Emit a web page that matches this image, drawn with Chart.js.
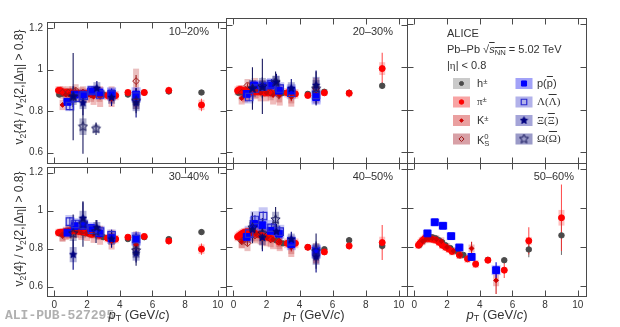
<!DOCTYPE html>
<html><head><meta charset="utf-8">
<script src="https://cdn.jsdelivr.net/npm/chart.js@4.4.0/dist/chart.umd.min.js"></script>
<style>
html,body{margin:0;padding:0;background:#fff;width:620px;height:327px;overflow:hidden;position:relative;font-family:"Liberation Sans",Arial,sans-serif;color:#333}
canvas{position:absolute}
.t{position:absolute;white-space:nowrap;line-height:1}
.t sub{font-size:70%;vertical-align:-0.3em;line-height:0}
.t sup{font-size:70%;vertical-align:0.45em;line-height:0}
.g{font-family:"Liberation Serif",serif}
.ol{text-decoration:overline}
</style></head><body>

<div class="t" style="right:411px;top:25.5px;font-size:11px">10–20%</div>
<div class="t" style="right:227px;top:25.5px;font-size:11px">20–30%</div>
<div class="t" style="right:411px;top:170.5px;font-size:11px">30–40%</div>
<div class="t" style="right:227px;top:170.5px;font-size:11px">40–50%</div>
<div class="t" style="right:46px;top:170.5px;font-size:11px">50–60%</div>

<div class="t" style="left:447px;top:27.5px;font-size:11px">ALICE</div>
<div class="t" style="left:447px;top:44px;font-size:11px">Pb–Pb √<span class="ol"><i>s</i><sub>NN</sub></span> = 5.02 TeV</div>
<div class="t" style="left:447px;top:60px;font-size:11px">|<span class="g">η</span>| &lt; 0.8</div>

<div class="t" style="left:477px;top:77.5px;font-size:11px">h<sup>±</sup></div>
<div class="t" style="left:477px;top:96px;font-size:11px"><span class="g">π</span><sup>±</sup></div>
<div class="t" style="left:477px;top:114.5px;font-size:11px">K<sup>±</sup></div>
<div class="t" style="left:477px;top:133px;font-size:11px">K<span style="display:inline-block;vertical-align:-0.35em;font-size:70%;line-height:0.95;text-align:left"><span style="display:block">0</span><span style="display:block">S</span></span></div>
<div class="t" style="left:537px;top:77.5px;font-size:11px">p(<span class="ol">p</span>)</div>
<div class="t g" style="left:537px;top:96px;font-size:11px">Λ(<span class="ol">Λ</span>)</div>
<div class="t g" style="left:537px;top:114.5px;font-size:11px">Ξ(<span class="ol">Ξ</span>)</div>
<div class="t g" style="left:537px;top:133px;font-size:11px">Ω(<span class="ol">Ω</span>)</div>

<div class="t" style="left:19px;top:87px;transform:translate(-50%,-50%) rotate(-90deg);font-size:12px">v<sub>2</sub>{4} / v<sub>2</sub>{2,|Δ<span class="g">η</span>| &gt; 0.8}</div>
<div class="t" style="left:19px;top:229px;transform:translate(-50%,-50%) rotate(-90deg);font-size:12px">v<sub>2</sub>{4} / v<sub>2</sub>{2,|Δ<span class="g">η</span>| &gt; 0.8}</div>

<div class="t" style="left:5px;top:309px;font-size:13px;font-family:'Liberation Mono',monospace;font-weight:bold;color:#b0b0b0">ALI-PUB-527295</div>
<div class="t" style="left:139px;top:314px;transform:translate(-50%,-50%);font-size:13px"><i>p</i><sub>T</sub> (GeV/<i>c</i>)</div>
<div class="t" style="left:314px;top:314px;transform:translate(-50%,-50%);font-size:13px"><i>p</i><sub>T</sub> (GeV/<i>c</i>)</div>
<div class="t" style="left:497px;top:314px;transform:translate(-50%,-50%);font-size:13px"><i>p</i><sub>T</sub> (GeV/<i>c</i>)</div>

<script>
// ---------- transverse momentum bins ----------
const pt_h   = [0.3,0.5,0.7,0.9,1.1,1.3,1.5,1.7,1.9,2.2,2.6,3.0,3.5,4.5,5.5,7,9];
const pt_pi  = [0.25,0.35,0.45,0.55,0.65,0.75,0.85,0.95,1.1,1.3,1.5,1.7,1.9,2.1,2.3,2.75,3.25,3.75,4.5,5.5,7,9];
const pt_k   = [0.5,0.7,0.9,1.1,1.35,1.65,2.0,2.4,2.8,3.5,5];
const pt_k0  = [0.5,0.85,1.3,1.75,2.25,2.75,3.5,5];
const pt_p   = [0.8,1.25,1.75,2.25,2.75,3.5,5];
const pt_lam = [0.95,1.3,1.8,2.3,2.8,3.5,5];
const pt_xi  = [1.15,1.75,2.6,3.5,5];
const pt_om  = [1.15,1.75,2.55,5];

const xTickVals = [0,2,4,6,8,10];
const yTickVals = [0.6,0.8,1.0,1.2];
const centLabels = ['10–20%','20–30%','30–40%','40–50%','50–60%'];

// ---------- 10-20% ----------
const c1020_h       = [0.88,0.885,0.885,0.885,0.885,0.885,0.885,0.885,0.885,0.885,0.885,0.88,0.88,0.88,0.89,0.895,0.89];
const c1020_h_stat  = [0.003,0.003,0.003,0.003,0.003,0.003,0.003,0.003,0.003,0.003,0.003,0.004,0.004,0.005,0.006,0.01,0.012];
const c1020_h_sys   = [0.012,0.012,0.012,0.012,0.012,0.012,0.012,0.012,0.012,0.012,0.012,0.012,0.012,0.012,0.012,0.012,0.012];
const c1020_pi      = [0.9,0.9,0.895,0.89,0.89,0.89,0.89,0.89,0.885,0.885,0.885,0.885,0.885,0.885,0.88,0.88,0.875,0.875,0.89,0.89,0.9,0.83];
const c1020_pi_stat = [0.004,0.004,0.004,0.004,0.004,0.004,0.004,0.004,0.004,0.004,0.004,0.004,0.004,0.004,0.004,0.005,0.006,0.006,0.008,0.01,0.018,0.03];
const c1020_pi_sys  = [0.02,0.02,0.02,0.02,0.02,0.02,0.02,0.02,0.02,0.02,0.02,0.02,0.02,0.02,0.022,0.022,0.022,0.022,0.015,0.015,0.015,0.025];
const c1020_k       = [0.83,0.88,0.88,0.89,0.88,0.88,0.875,0.87,0.87,0.86,0.85];
const c1020_k_stat  = [0.006,0.006,0.006,0.006,0.007,0.008,0.01,0.012,0.015,0.02,0.03];
const c1020_k_sys   = [0.025,0.03,0.03,0.03,0.03,0.035,0.035,0.04,0.05,0.04,0.04];
const c1020_k0      = [0.89,0.89,0.9,0.89,0.88,0.88,0.88,0.945];
const c1020_k0_stat = [0.01,0.01,0.01,0.01,0.012,0.015,0.02,0.03];
const c1020_k0_sys  = [0.03,0.03,0.03,0.03,0.035,0.035,0.04,0.06];
const c1020_p       = [0.845,0.88,0.88,0.895,0.89,0.885,0.88];
const c1020_p_stat  = [0.01,0.01,0.01,0.012,0.015,0.02,0.03];
const c1020_p_sys   = [0.02,0.02,0.025,0.025,0.025,0.03,0.035];
const c1020_lam     = [0.825,0.865,0.875,0.9,0.88,0.88,0.87];
const c1020_lam_stat= [0.02,0.015,0.015,0.02,0.02,0.03,0.04];
const c1020_lam_sys = [0.025,0.025,0.025,0.025,0.025,0.03,0.03];
const c1020_xi      = [0.87,0.84,0.91,0.865,0.84];
const c1020_xi_stat = [0.05,0.06,0.035,0.04,0.07];
const c1020_xi_sys  = [0.03,0.03,0.03,0.03,0.04];
const c1020_om      = [0.87,0.725,0.715,0.85];
const c1020_om_stat = [0.21,0.13,0.03,0.06];
const c1020_om_sys  = [0.04,0.04,0.02,0.04];

// ---------- 20-30% ----------
const c2030_h       = [0.88,0.885,0.89,0.89,0.89,0.89,0.89,0.89,0.885,0.885,0.885,0.88,0.88,0.875,0.885,0.88,0.913];
const c2030_h_stat  = [0.003,0.003,0.003,0.003,0.003,0.003,0.003,0.003,0.003,0.003,0.003,0.004,0.004,0.005,0.006,0.01,0.015];
const c2030_h_sys   = [0.012,0.012,0.012,0.012,0.012,0.012,0.012,0.012,0.012,0.012,0.012,0.012,0.012,0.012,0.012,0.012,0.012];
const c2030_pi      = [0.89,0.895,0.895,0.89,0.89,0.89,0.89,0.89,0.885,0.885,0.885,0.885,0.88,0.88,0.88,0.88,0.88,0.875,0.868,0.88,0.878,0.994];
const c2030_pi_stat = [0.004,0.004,0.004,0.004,0.004,0.004,0.004,0.004,0.004,0.004,0.004,0.004,0.004,0.004,0.004,0.005,0.006,0.006,0.008,0.01,0.02,0.075];
const c2030_pi_sys  = [0.02,0.02,0.02,0.02,0.02,0.02,0.02,0.02,0.02,0.02,0.02,0.02,0.02,0.02,0.022,0.022,0.022,0.022,0.015,0.015,0.015,0.03];
const c2030_k       = [0.855,0.87,0.88,0.9,0.89,0.88,0.88,0.87,0.87,0.86,0.87];
const c2030_k_stat  = [0.006,0.006,0.006,0.006,0.007,0.008,0.01,0.012,0.015,0.02,0.03];
const c2030_k_sys   = [0.03,0.035,0.035,0.035,0.035,0.04,0.04,0.045,0.05,0.045,0.04];
const c2030_k0      = [0.88,0.915,0.9,0.9,0.88,0.87,0.87,0.9];
const c2030_k0_stat = [0.01,0.01,0.01,0.012,0.015,0.02,0.025,0.035];
const c2030_k0_sys  = [0.035,0.03,0.05,0.04,0.035,0.035,0.04,0.05];
const c2030_p       = [0.875,0.915,0.91,0.915,0.89,0.89,0.86];
const c2030_p_stat  = [0.01,0.01,0.012,0.015,0.02,0.025,0.035];
const c2030_p_sys   = [0.02,0.025,0.025,0.03,0.03,0.03,0.035];
const c2030_lam     = [0.86,0.9,0.91,0.92,0.9,0.88,0.87];
const c2030_lam_stat= [0.02,0.02,0.02,0.025,0.025,0.03,0.04];
const c2030_lam_sys = [0.03,0.03,0.03,0.03,0.03,0.03,0.035];
const c2030_xi      = [0.9,0.905,0.93,0.9,0.915];
const c2030_xi_stat = [0.05,0.05,0.04,0.045,0.07];
const c2030_xi_sys  = [0.03,0.03,0.03,0.03,0.04];
const c2030_om      = [0.9,0.91,0.93,0.9];
const c2030_om_stat = [0.1,0.13,0.05,0.08];
const c2030_om_sys  = [0.04,0.04,0.03,0.04];

// ---------- 30-40% ----------
const c3040_h       = [0.88,0.885,0.885,0.89,0.89,0.89,0.89,0.885,0.88,0.875,0.87,0.86,0.855,0.85,0.86,0.85,0.887];
const c3040_h_stat  = [0.003,0.003,0.003,0.003,0.003,0.003,0.003,0.003,0.003,0.003,0.003,0.004,0.004,0.005,0.007,0.012,0.015];
const c3040_h_sys   = [0.012,0.012,0.012,0.012,0.012,0.012,0.012,0.012,0.012,0.012,0.012,0.012,0.012,0.012,0.012,0.012,0.012];
const c3040_pi      = [0.884,0.885,0.885,0.886,0.888,0.89,0.892,0.893,0.893,0.892,0.89,0.888,0.885,0.88,0.875,0.87,0.855,0.85,0.86,0.864,0.84,0.797];
const c3040_pi_stat = [0.004,0.004,0.004,0.004,0.004,0.004,0.004,0.004,0.004,0.004,0.004,0.004,0.004,0.004,0.004,0.005,0.006,0.007,0.008,0.01,0.018,0.03];
const c3040_pi_sys  = [0.02,0.02,0.02,0.02,0.02,0.02,0.02,0.02,0.02,0.02,0.02,0.02,0.02,0.02,0.022,0.022,0.022,0.022,0.015,0.015,0.015,0.025];
const c3040_k       = [0.87,0.88,0.885,0.89,0.89,0.885,0.88,0.875,0.87,0.84,0.82];
const c3040_k_stat  = [0.006,0.006,0.006,0.006,0.007,0.008,0.01,0.012,0.015,0.02,0.03];
const c3040_k_sys   = [0.03,0.035,0.035,0.035,0.035,0.04,0.04,0.045,0.05,0.045,0.04];
const c3040_k0      = [0.87,0.89,0.9,0.895,0.89,0.88,0.86,0.84];
const c3040_k0_stat = [0.01,0.01,0.01,0.012,0.015,0.02,0.025,0.035];
const c3040_k0_sys  = [0.035,0.035,0.04,0.04,0.035,0.035,0.04,0.05];
const c3040_p       = [0.884,0.918,0.92,0.908,0.88,0.855,0.852];
const c3040_p_stat  = [0.01,0.012,0.015,0.015,0.02,0.025,0.03];
const c3040_p_sys   = [0.025,0.03,0.03,0.03,0.03,0.03,0.035];
const c3040_lam     = [0.942,0.93,0.925,0.9,0.89,0.87,0.85];
const c3040_lam_stat= [0.025,0.02,0.02,0.025,0.025,0.03,0.04];
const c3040_lam_sys = [0.035,0.03,0.03,0.03,0.03,0.03,0.035];
const c3040_xi      = [0.768,0.959,0.91,0.85,0.776];
const c3040_xi_stat = [0.08,0.085,0.04,0.045,0.05];
const c3040_xi_sys  = [0.04,0.04,0.03,0.03,0.04];
const c3040_om      = [0.88,0.93,0.89,0.79];
const c3040_om_stat = [0.1,0.12,0.06,0.08];
const c3040_om_sys  = [0.04,0.04,0.03,0.04];

// ---------- 40-50% ----------
const c4050_h       = [0.85,0.86,0.87,0.875,0.875,0.87,0.865,0.86,0.855,0.85,0.835,0.82,0.81,0.80,0.79,0.836,0.807];
const c4050_h_stat  = [0.003,0.003,0.003,0.003,0.003,0.003,0.003,0.003,0.003,0.003,0.003,0.004,0.005,0.006,0.008,0.015,0.02];
const c4050_h_sys   = [0.012,0.012,0.012,0.012,0.012,0.012,0.012,0.012,0.012,0.012,0.012,0.012,0.012,0.012,0.012,0.012,0.012];
const c4050_pi      = [0.853,0.86,0.866,0.872,0.876,0.878,0.878,0.878,0.876,0.872,0.866,0.86,0.855,0.85,0.845,0.827,0.82,0.82,0.80,0.776,0.807,0.824];
const c4050_pi_stat = [0.004,0.004,0.004,0.004,0.004,0.004,0.004,0.004,0.004,0.004,0.004,0.004,0.004,0.004,0.004,0.006,0.007,0.008,0.01,0.012,0.02,0.09];
const c4050_pi_sys  = [0.022,0.022,0.022,0.022,0.022,0.022,0.022,0.022,0.022,0.022,0.022,0.022,0.022,0.022,0.025,0.025,0.025,0.025,0.015,0.015,0.015,0.03];
const c4050_k       = [0.83,0.85,0.86,0.87,0.87,0.86,0.85,0.84,0.83,0.80,0.76];
const c4050_k_stat  = [0.007,0.007,0.007,0.007,0.008,0.009,0.011,0.013,0.016,0.022,0.035];
const c4050_k_sys   = [0.035,0.04,0.04,0.04,0.04,0.045,0.045,0.05,0.05,0.05,0.045];
const c4050_k0      = [0.83,0.82,0.86,0.85,0.84,0.83,0.81,0.77];
const c4050_k0_stat = [0.012,0.012,0.012,0.015,0.018,0.02,0.025,0.04];
const c4050_k0_sys  = [0.035,0.04,0.04,0.04,0.04,0.04,0.045,0.05];
const c4050_p       = [0.853,0.92,0.913,0.884,0.87,0.815,0.776];
const c4050_p_stat  = [0.012,0.012,0.015,0.015,0.02,0.025,0.04];
const c4050_p_sys   = [0.03,0.035,0.035,0.035,0.03,0.03,0.035];
const c4050_lam     = [0.87,0.94,0.96,0.9,0.88,0.83,0.78];
const c4050_lam_stat= [0.025,0.025,0.025,0.025,0.03,0.03,0.04];
const c4050_lam_sys = [0.04,0.045,0.045,0.04,0.035,0.03,0.035];
const c4050_xi      = [0.89,0.85,0.88,0.84,0.75];
const c4050_xi_stat = [0.05,0.07,0.04,0.04,0.08];
const c4050_xi_sys  = [0.04,0.04,0.03,0.03,0.04];
const c4050_om      = [0.9,0.87,0.942,0.78];
const c4050_om_stat = [0.08,0.08,0.065,0.09];
const c4050_om_sys  = [0.04,0.04,0.04,0.04];

// ---------- 50-60% ----------
const c5060_h       = [0.81,0.83,0.845,0.85,0.85,0.845,0.835,0.825,0.81,0.795,0.78,0.76,0.745,0.735,0.733,0.788,0.86];
const c5060_h_stat  = [0.004,0.004,0.004,0.004,0.004,0.004,0.004,0.004,0.004,0.004,0.004,0.005,0.006,0.008,0.012,0.04,0.1];
const c5060_h_sys   = [0.012,0.012,0.012,0.012,0.012,0.012,0.012,0.012,0.012,0.012,0.012,0.012,0.012,0.012,0.012,0.012,0.012];
const c5060_pi      = [0.81,0.82,0.83,0.838,0.845,0.845,0.845,0.843,0.84,0.836,0.825,0.81,0.8,0.79,0.778,0.76,0.74,0.713,0.733,0.682,0.832,0.95];
const c5060_pi_stat = [0.005,0.005,0.005,0.005,0.005,0.005,0.005,0.005,0.005,0.005,0.005,0.005,0.005,0.005,0.005,0.007,0.008,0.01,0.012,0.04,0.07,0.17];
const c5060_pi_sys  = [0.02,0.02,0.02,0.02,0.02,0.02,0.02,0.02,0.02,0.02,0.02,0.02,0.02,0.02,0.02,0.02,0.02,0.02,0.015,0.015,0.02,0.04];
const c5060_k       = [0.83,0.84,0.845,0.845,0.84,0.83,0.8,0.78,0.76,0.793,0.63];
const c5060_k_stat  = [0.008,0.008,0.008,0.008,0.01,0.01,0.012,0.015,0.02,0.035,0.07];
const c5060_k_sys   = [0.02,0.02,0.02,0.02,0.02,0.02,0.02,0.02,0.02,0.02,0.03];
const c5060_k0      = [];
const c5060_k0_stat = [];
const c5060_k0_sys  = [];
const c5060_p       = [0.87,0.927,0.909,0.856,0.798,0.75,0.682];
const c5060_p_stat  = [0.012,0.012,0.012,0.015,0.015,0.02,0.04];
const c5060_p_sys   = [0.02,0.02,0.02,0.02,0.02,0.02,0.025];
const c5060_lam     = [];
const c5060_lam_stat= [];
const c5060_lam_sys = [];
const c5060_xi      = [];
const c5060_xi_stat = [];
const c5060_xi_sys  = [];
const c5060_om      = [];
const c5060_om_stat = [];
const c5060_om_sys  = [];

// ---------- assemble ----------
const DATA = {
  c1020:{h:[c1020_h,c1020_h_stat,c1020_h_sys],pi:[c1020_pi,c1020_pi_stat,c1020_pi_sys],k:[c1020_k,c1020_k_stat,c1020_k_sys],k0:[c1020_k0,c1020_k0_stat,c1020_k0_sys],p:[c1020_p,c1020_p_stat,c1020_p_sys],lam:[c1020_lam,c1020_lam_stat,c1020_lam_sys],xi:[c1020_xi,c1020_xi_stat,c1020_xi_sys],om:[c1020_om,c1020_om_stat,c1020_om_sys]},
  c2030:{h:[c2030_h,c2030_h_stat,c2030_h_sys],pi:[c2030_pi,c2030_pi_stat,c2030_pi_sys],k:[c2030_k,c2030_k_stat,c2030_k_sys],k0:[c2030_k0,c2030_k0_stat,c2030_k0_sys],p:[c2030_p,c2030_p_stat,c2030_p_sys],lam:[c2030_lam,c2030_lam_stat,c2030_lam_sys],xi:[c2030_xi,c2030_xi_stat,c2030_xi_sys],om:[c2030_om,c2030_om_stat,c2030_om_sys]},
  c3040:{h:[c3040_h,c3040_h_stat,c3040_h_sys],pi:[c3040_pi,c3040_pi_stat,c3040_pi_sys],k:[c3040_k,c3040_k_stat,c3040_k_sys],k0:[c3040_k0,c3040_k0_stat,c3040_k0_sys],p:[c3040_p,c3040_p_stat,c3040_p_sys],lam:[c3040_lam,c3040_lam_stat,c3040_lam_sys],xi:[c3040_xi,c3040_xi_stat,c3040_xi_sys],om:[c3040_om,c3040_om_stat,c3040_om_sys]},
  c4050:{h:[c4050_h,c4050_h_stat,c4050_h_sys],pi:[c4050_pi,c4050_pi_stat,c4050_pi_sys],k:[c4050_k,c4050_k_stat,c4050_k_sys],k0:[c4050_k0,c4050_k0_stat,c4050_k0_sys],p:[c4050_p,c4050_p_stat,c4050_p_sys],lam:[c4050_lam,c4050_lam_stat,c4050_lam_sys],xi:[c4050_xi,c4050_xi_stat,c4050_xi_sys],om:[c4050_om,c4050_om_stat,c4050_om_sys]},
  c5060:{h:[c5060_h,c5060_h_stat,c5060_h_sys],pi:[c5060_pi,c5060_pi_stat,c5060_pi_sys],k:[c5060_k,c5060_k_stat,c5060_k_sys],k0:[c5060_k0,c5060_k0_stat,c5060_k0_sys],p:[c5060_p,c5060_p_stat,c5060_p_sys],lam:[c5060_lam,c5060_lam_stat,c5060_lam_sys],xi:[c5060_xi,c5060_xi_stat,c5060_xi_sys],om:[c5060_om,c5060_om_stat,c5060_om_sys]}
};

function starImg(fill, stroke, size){
  const c=document.createElement('canvas'); c.width=c.height=size;
  const g=c.getContext('2d'); const cx=size/2, cy=size/2, R=size/2-0.7, r=R*0.45;
  g.beginPath();
  for(let i=0;i<10;i++){const a=-Math.PI/2+i*Math.PI/5; const rr=i%2?r:R; g.lineTo(cx+rr*Math.cos(a), cy+rr*Math.sin(a));}
  g.closePath();
  if(fill){g.fillStyle=fill; g.fill();}
  g.strokeStyle=stroke; g.lineWidth=1; g.stroke();
  return c;
}

// species styles: first drawn on top
const SPEC = [
  {key:'om', pt:pt_om, ps:starImg(null,'#14145a',11), r:5, bg:'rgba(0,0,0,0)', bc:'#14145a', bw:1, box:'rgba(30,30,110,0.35)', line:'#1a1a60', boxW:3.5, legBox:'#9a9ac8'},
  {key:'xi', pt:pt_xi, ps:starImg('#000080','#000080',9), r:4, bg:'#000080', bc:'#000080', bw:1, box:'rgba(30,30,140,0.35)', line:'#000080', boxW:3.5, legBox:'#a4a4d8'},
  {key:'lam', pt:pt_lam, ps:'rect', r:5.2, bg:'rgba(255,255,255,0)', bc:'#2a2ad0', bw:1.2, box:'rgba(70,70,220,0.3)', line:'#3030c8', boxW:4.5, legBox:'#b2b2ea'},
  {key:'p', pt:pt_p, ps:'rect', r:4.8, bg:'#0000ff', bc:'#0000ff', bw:1, box:'rgba(40,40,255,0.33)', line:'#0000e0', boxW:4.5, legBox:'#a2a2f8'},
  {key:'k0', pt:pt_k0, ps:'rectRot', r:3.4, bg:'rgba(255,255,255,0)', bc:'#a01818', bw:1, box:'rgba(190,60,60,0.33)', line:'#a02020', boxW:3, legBox:'#d8a0a6'},
  {key:'k', pt:pt_k, ps:'rectRot', r:2.4, bg:'#d00000', bc:'#d00000', bw:1, box:'rgba(210,50,50,0.33)', line:'#d02020', boxW:3, legBox:'#eaa0a0'},
  {key:'pi', pt:pt_pi, ps:'circle', r:3, bg:'#ff0000', bc:'#ff0000', bw:1, box:'rgba(255,60,60,0.32)', line:'rgba(255,40,40,0.8)', boxW:3, legBox:'#f8a4a4'},
  {key:'h', pt:pt_h, ps:'circle', r:2.7, bg:'#4a4a4a', bc:'#4a4a4a', bw:1, box:'rgba(140,140,140,0.45)', line:'#777', boxW:3, legBox:'#cacaca'}
];
const SPEC_BY = {}; SPEC.forEach(s=>SPEC_BY[s.key]=s);

const PADL=40, PADT=6, PADR=12, PADB=22;
const xMin=-0.45, xMax=10.5, yMin=0.55, yMax=1.23;

const errPlugin={id:'err', beforeDatasetsDraw(chart){
  const ctx=chart.ctx, a=chart.chartArea, x=chart.scales.x, y=chart.scales.y;
  ctx.save(); ctx.beginPath(); ctx.rect(a.left,a.top,a.right-a.left,a.bottom-a.top); ctx.clip();
  const ds=chart.data.datasets;
  for(let i=ds.length-1;i>=0;i--){ const d=ds[i]; ctx.fillStyle=d.boxColor;
    d.data.forEach((p,j)=>{ const px=x.getPixelForValue(p.x); const y1=y.getPixelForValue(p.y+d.sys[j]); const y0=y.getPixelForValue(p.y-d.sys[j]); ctx.fillRect(px-d.boxW,y1,2*d.boxW,y0-y1);});}
  for(let i=ds.length-1;i>=0;i--){ const d=ds[i]; ctx.strokeStyle=d.lineColor; ctx.lineWidth=1.1;
    d.data.forEach((p,j)=>{ const px=x.getPixelForValue(p.x); ctx.beginPath(); ctx.moveTo(px,y.getPixelForValue(p.y+d.stat[j])); ctx.lineTo(px,y.getPixelForValue(p.y-d.stat[j])); ctx.stroke();});}
  ctx.restore();
}};

const framePlugin={id:'frame', afterDraw(chart){
  const ctx=chart.ctx, a=chart.chartArea, x=chart.scales.x, y=chart.scales.y;
  ctx.save(); ctx.strokeStyle='#4a4a4a'; ctx.lineWidth=1;
  const L=Math.round(a.left)+0.5, R=Math.round(a.right)+0.5, T=Math.round(a.top)+0.5, B=Math.round(a.bottom)+0.5;
  ctx.strokeRect(L,T,R-L,B-T);
  ctx.beginPath();
  xTickVals.forEach(v=>{const px=Math.round(x.getPixelForValue(v))+0.5; ctx.moveTo(px,B); ctx.lineTo(px,B-6); ctx.moveTo(px,T); ctx.lineTo(px,T+6);});
  yTickVals.forEach(v=>{const py=Math.round(y.getPixelForValue(v))+0.5; ctx.moveTo(L,py); ctx.lineTo(L+6,py); ctx.moveTo(R,py); ctx.lineTo(R-6,py);});
  ctx.stroke(); ctx.restore();
}};

const LEG=[['h',0,0],['pi',0,1],['k',0,2],['k0',0,3],['p',1,0],['lam',1,1],['xi',1,2],['om',1,3]];
const legendPlugin={id:'legm', afterDraw(chart){
  const ctx=chart.ctx; const ox=407-PADL, oy=18-PADT; const cx=[461.5,524], cy=[83.5,102,120.5,139];
  LEG.forEach(e=>{ const s=SPEC_BY[e[0]]; const x=cx[e[1]]-ox, y=cy[e[2]]-oy;
    ctx.save(); ctx.fillStyle=s.legBox; ctx.fillRect(x-8.5,y-5.5,17,11);
    ctx.fillStyle=s.bg; ctx.strokeStyle=s.bc; ctx.lineWidth=s.bw;
    const lr = (typeof s.ps==='string') ? s.r*0.75 : s.r;
    Chart.helpers.drawPoint(ctx,{pointStyle:s.ps, radius:lr, borderWidth:s.bw, rotation:0}, x, y);
    ctx.restore();
  });
}};

function makeChart(pn, datasets, extra){
  const cv=document.createElement('canvas');
  const w=pn.R-pn.L+PADL+PADR, h=pn.B-pn.T+PADT+PADB;
  cv.width=w; cv.height=h;
  cv.style.left=(pn.L-PADL)+'px'; cv.style.top=(pn.T-PADT)+'px';
  cv.style.width=w+'px'; cv.style.height=h+'px';
  document.body.insertBefore(cv, document.body.firstChild);
  return new Chart(cv.getContext('2d'), {
    type:'scatter',
    data:{datasets},
    options:{
      responsive:false, animation:false, devicePixelRatio:1, events:[],
      layout:{padding:{left:0,top:PADT,right:PADR,bottom:0}},
      plugins:{legend:{display:false}, tooltip:{enabled:false}},
      scales:{
        x:{type:'linear', min:xMin, max:xMax, grid:{display:false,drawTicks:false}, border:{display:false},
           afterBuildTicks:s=>{s.ticks=xTickVals.map(v=>({value:v}));},
           afterFit:s=>{s.height=PADB;},
           ticks:{display:pn.xl, padding:3, color:'#333', font:{family:'Liberation Sans', size:10}, callback:v=>String(v), maxRotation:0, autoSkip:false}},
        y:{type:'linear', min:yMin, max:yMax, grid:{display:false,drawTicks:false}, border:{display:false},
           afterBuildTicks:s=>{s.ticks=yTickVals.map(v=>({value:v}));},
           afterFit:s=>{s.width=PADL;},
           ticks:{display:pn.yl, padding:4, color:'#333', font:{family:'Liberation Sans', size:10}, callback:v=>(Math.abs(v-1)<1e-9?'1':v.toFixed(1)), autoSkip:false}}
      }
    },
    plugins:[errPlugin, framePlugin].concat(extra||[])
  });
}

function buildDatasets(id){
  return SPEC.map(s=>{
    const v=DATA[id][s.key];
    return {label:s.key, data:v[0].map((val,j)=>({x:s.pt[j], y:val})), stat:v[1], sys:v[2],
      pointStyle:s.ps, pointRadius:s.r, backgroundColor:s.bg, borderColor:s.bc, borderWidth:s.bw,
      boxColor:s.box, lineColor:s.line, boxW:s.boxW, showLine:false};
  });
}

const PANELS=[
  {id:'c1020', L:47, T:18, R:226, B:163, yl:true,  xl:false},
  {id:'c2030', L:226,T:18, R:407, B:163, yl:false, xl:false},
  {id:'legend',L:407,T:18, R:586, B:163, yl:false, xl:false},
  {id:'c3040', L:47, T:163,R:226, B:296, yl:true,  xl:true},
  {id:'c4050', L:226,T:163,R:407, B:296, yl:false, xl:true},
  {id:'c5060', L:407,T:163,R:586, B:296, yl:false, xl:true}
];
PANELS.forEach(pn=>{
  if(pn.id==='legend') makeChart(pn, [], [legendPlugin]);
  else makeChart(pn, buildDatasets(pn.id));
});
</script>
</body></html>
